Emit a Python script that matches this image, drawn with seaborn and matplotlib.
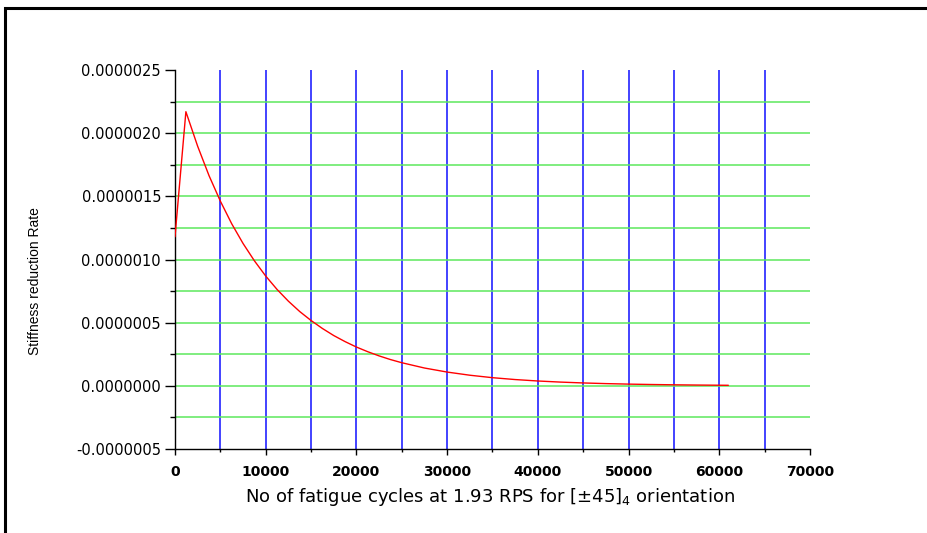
import numpy as np
import pandas as pd
import matplotlib
matplotlib.use("Agg")
import matplotlib.pyplot as plt
from matplotlib.patches import Rectangle
from matplotlib.ticker import MultipleLocator, FuncFormatter
import seaborn as sns

# =========================
# DATA
# =========================
cycles = [0, 1200, 2500, 3750, 5000, 6250, 7500, 8750, 10000, 11250, 12500,
          13750, 15000, 16250, 17500, 18750, 20000, 21250, 22500, 23750,
          25000, 27500, 30000, 32500, 35000, 37500, 40000, 42500,
          45000, 47500, 50000, 52500, 55000, 57500, 60000, 61000]
# stiffness reduction rate, in units of 1e-7
rate_e7 = [11.8, 21.7, 18.96, 16.64, 14.62, 12.83, 11.27, 9.90, 8.69, 7.63,
           6.70, 5.88, 5.17, 4.54, 3.98, 3.50, 3.07, 2.70, 2.37, 2.08,
           1.83, 1.41, 1.09, 0.84, 0.645, 0.497, 0.383, 0.296,
           0.228, 0.176, 0.136, 0.105, 0.081, 0.062, 0.048, 0.043]
blue_grid_x = [5000, 10000, 15000, 20000, 25000, 30000, 35000, 40000,
               45000, 50000, 55000, 60000, 65000]
green_grid_e7 = [-2.5, 0, 2.5, 5, 7.5, 10, 12.5, 15, 17.5, 20, 22.5]

df = pd.DataFrame({"cycles": cycles, "rate": np.array(rate_e7) * 1e-7})

# =========================
# STYLE
# =========================
sns.set_style("ticks")
plt.rcParams["font.family"] = ["DejaVu Sans"]
plt.rcParams["text.color"] = "black"
plt.rcParams["xtick.color"] = "black"
plt.rcParams["ytick.color"] = "black"
plt.rcParams["axes.edgecolor"] = "black"

fig = plt.figure(figsize=(9.28, 5.33), dpi=100)
ax = fig.add_axes([175 / 928, 1 - 449 / 533, 635 / 928, 379 / 533])

# frame around the whole picture (right/bottom run off the edge)
fig.patches.append(Rectangle((5 / 928, -0.1), 1.2, 1 - 8 / 533 + 0.1,
                             transform=fig.transFigure, fill=False,
                             edgecolor="black", linewidth=2.2, zorder=0))

# grid lines
for gx in blue_grid_x:
    ax.axvline(gx, color="#1010ff", linewidth=1.1, zorder=1)
for gy in green_grid_e7:
    ax.axhline(gy * 1e-7, color="#5ce85c", linewidth=1.1, zorder=1)

sns.lineplot(data=df, x="cycles", y="rate", ax=ax, color="#ff0000",
             linewidth=1.0, zorder=3)

ax.set_xlim(0, 70000)
ax.set_ylim(-5e-7, 2.5e-6)
ax.xaxis.set_major_locator(MultipleLocator(10000))
ax.xaxis.set_minor_locator(MultipleLocator(5000))
ax.yaxis.set_major_locator(MultipleLocator(5e-7))
ax.yaxis.set_minor_locator(MultipleLocator(2.5e-7))
ax.yaxis.set_major_formatter(FuncFormatter(lambda v, p: f"{v:.7f}"))

for side in ["top", "right"]:
    ax.spines[side].set_visible(False)
ax.spines["left"].set_linewidth(1.0)
ax.spines["bottom"].set_linewidth(1.0)

ax.tick_params(axis="y", which="major", length=7, width=1, direction="out",
               labelsize=10.5, pad=3)
ax.tick_params(axis="y", which="minor", length=3.5, width=1, direction="out")
ax.tick_params(axis="x", which="major", length=4.5, width=1, direction="out",
               labelsize=10, pad=7)
ax.tick_params(axis="x", which="minor", length=2, width=1, direction="out")
for lab in ax.get_xticklabels():
    lab.set_fontweight("bold")

ax.set_xlabel("")
ax.set_ylabel("")
fig.text(490 / 928, 1 - 497 / 533,
         "No of fatigue cycles at 1.93 RPS for [\u00b145]$_4$ orientation",
         ha="center", va="center", fontsize=13)
fig.text(35 / 928, 1 - 281 / 533, "Stiffness reduction Rate",
         ha="center", va="center", rotation=90, fontsize=10,
         family=["Liberation Sans Narrow", "Liberation Sans", "DejaVu Sans"])

fig.savefig("out.png", dpi=100)
